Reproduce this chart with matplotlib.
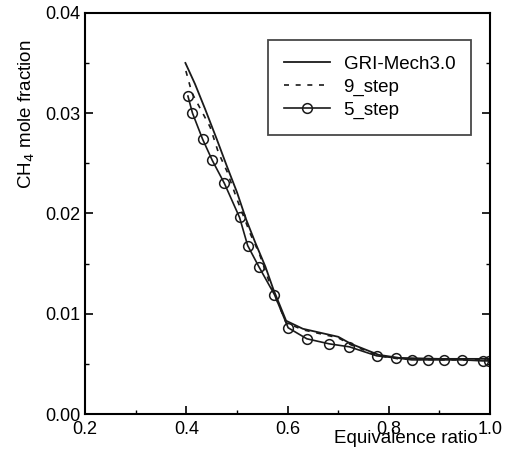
import numpy as np
import matplotlib
matplotlib.use('Agg')
import matplotlib.pyplot as plt
from matplotlib.ticker import MultipleLocator, FormatStrFormatter

plt.rcParams['font.family'] = ['Liberation Sans', 'DejaVu Sans']

# GRI-Mech3.0 (solid)
gri_x = [0.398, 0.417, 0.437, 0.46, 0.48, 0.50, 0.518, 0.536, 0.556, 0.572, 0.597,
         0.63, 0.70, 0.725, 0.78, 0.82, 0.90, 1.00]
gri_y = [0.0350, 0.0329, 0.0304, 0.0274, 0.0247, 0.0221, 0.0194, 0.0171, 0.0147, 0.0124, 0.0093,
         0.0085, 0.0077, 0.0070, 0.0059, 0.0056, 0.0055, 0.0055]

# 9_step (dashed)
step9_x = [0.399, 0.411, 0.447, 0.463, 0.481, 0.50, 0.526, 0.544, 0.562, 0.597,
           0.63, 0.70, 0.725, 0.78, 0.82, 0.90, 1.00]
step9_y = [0.0342, 0.0320, 0.0286, 0.0261, 0.0241, 0.0214, 0.0180, 0.0160, 0.0134, 0.0091,
           0.0084, 0.0076, 0.0069, 0.0058, 0.0055, 0.0054, 0.0054]

# 5_step (circles)
step5_x = [0.403, 0.412, 0.432, 0.451, 0.475, 0.505, 0.521, 0.543, 0.574, 0.601,
           0.638, 0.682, 0.722, 0.776, 0.814, 0.845, 0.877, 0.908, 0.945, 0.985, 0.997]
step5_y = [0.0317, 0.0300, 0.0274, 0.0253, 0.0230, 0.0196, 0.0168, 0.0147, 0.0119, 0.0086,
           0.0075, 0.0070, 0.0067, 0.0058, 0.0056, 0.0054, 0.0054, 0.0054, 0.0054, 0.0053, 0.0053]

fig = plt.figure(figsize=(5.10, 4.57), dpi=100)
ax = fig.add_axes([0.167, 0.094, 0.794, 0.878])

ax.plot(gri_x, gri_y, color='#1a1a1a', lw=1.3, label='GRI-Mech3.0')
ax.plot(step9_x, step9_y, color='#1a1a1a', lw=1.2, ls=(0, (3, 4)), label='9_step')
ax.plot(step5_x, step5_y, color='#1a1a1a', lw=1.2, marker='o', ms=7,
        mfc='none', mec='#1a1a1a', mew=1.1, label='5_step')

ax.set_xlim(0.2, 1.0)
ax.set_ylim(0.0, 0.04)
ax.xaxis.set_major_locator(MultipleLocator(0.2))
ax.xaxis.set_minor_locator(MultipleLocator(0.1))
ax.yaxis.set_major_locator(MultipleLocator(0.01))
ax.yaxis.set_minor_locator(MultipleLocator(0.005))
ax.xaxis.set_major_formatter(FormatStrFormatter('%.1f'))
ax.yaxis.set_major_formatter(FormatStrFormatter('%.2f'))

ax.tick_params(which='both', direction='in', right=True, top=False, labelsize=13)
ax.tick_params(axis='x', pad=5)
ax.tick_params(axis='y', pad=3.5)
ax.tick_params(which='major', length=6, width=1.2)
ax.tick_params(which='minor', length=3, width=1.0)
for s in ax.spines.values():
    s.set_linewidth(1.5)

ax.set_ylabel('CH$_4$ mole fraction', fontsize=13.5)
ax.yaxis.set_label_coords(-0.12, 0.748)
ax.set_xlabel('Equivalence ratio', fontsize=13.5, loc='right')
ax.xaxis.set_label_coords(0.97, -0.04)

leg = ax.legend(loc='upper right', bbox_to_anchor=(0.953, 0.933), fontsize=13.5,
                frameon=True, fancybox=False, edgecolor='#1a1a1a', borderaxespad=0,
                handlelength=2.5, borderpad=0.85, labelspacing=0.31, handletextpad=0.7)
leg.get_frame().set_linewidth(1.3)

fig.savefig('out.png', dpi=100)
